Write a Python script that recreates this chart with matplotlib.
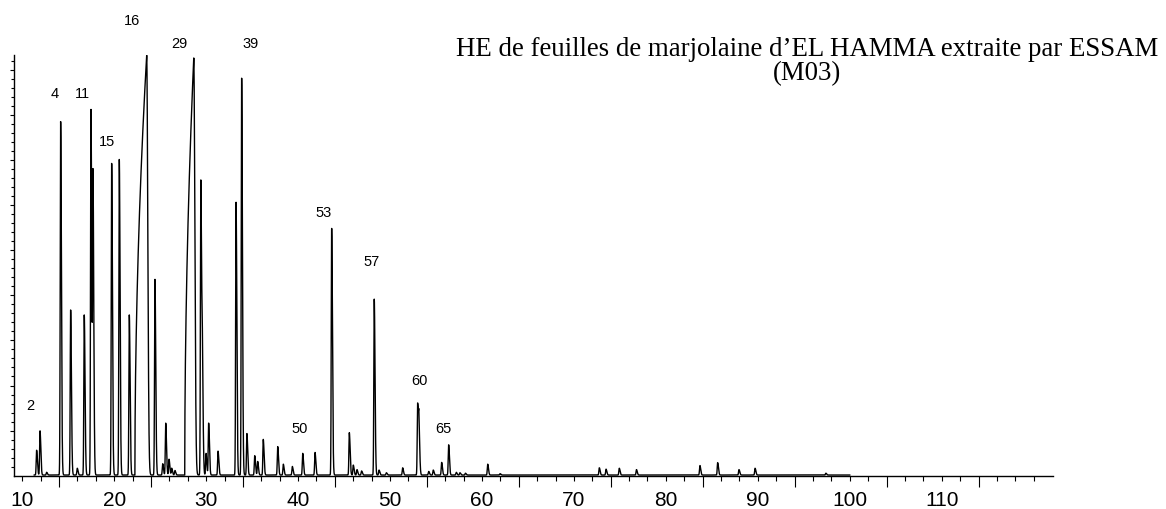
import numpy as np
import matplotlib
matplotlib.use("Agg")
import matplotlib.pyplot as plt
from matplotlib.ticker import FixedLocator, FuncFormatter, NullFormatter

# ---------------- data ----------------
# narrow peaks: retention time (min) and height (arbitrary units)
peak_rt = [11.56, 11.93, 12.65, 14.17, 15.26, 15.98, 16.74, 17.47, 17.69,
           19.72, 20.55, 21.64, 24.43, 25.27, 25.60, 25.96, 26.25, 26.60,
           29.42, 29.58, 29.98, 30.27, 31.29, 33.25, 33.86, 34.43, 35.28,
           35.60, 36.21, 37.78, 38.39, 39.37, 40.50, 41.84, 43.65, 45.57,
           46.00, 46.40, 46.90, 48.28, 48.80, 49.60, 51.37, 53.00, 53.14,
           54.20, 54.70, 55.61, 56.37, 57.20, 57.60, 58.20, 60.62, 61.96,
           72.76, 73.49, 74.93, 76.80, 83.70, 85.63, 87.95, 89.70, 97.40]
peak_height = [5.5, 9.8, 0.6, 78.4, 36.6, 1.5, 35.5, 81.1, 65.0,
               69.1, 70.0, 35.5, 43.4, 2.5, 11.5, 3.5, 1.5, 1.0,
               65.4, 23.3, 4.8, 11.5, 5.3, 60.5, 88.0, 9.2, 4.3,
               3.0, 7.9, 6.3, 2.4, 1.9, 4.8, 5.0, 54.7, 9.4,
               2.2, 1.2, 0.9, 39.0, 1.1, 0.5, 1.6, 15.9, 9.8,
               0.8, 1.1, 2.8, 6.7, 0.6, 0.5, 0.4, 2.4, 0.3,
               1.6, 1.3, 1.5, 1.2, 2.1, 2.75, 1.2, 1.5, 0.4]
# overloaded (fronting) peaks 16 and 29: start, apex, height
broad_start = [22.25, 27.67]
broad_apex = [23.53, 28.65]
broad_height = [93.1, 92.5]

# peak number labels
label_text = ["2", "4", "11", "15", "16", "29", "39", "50", "53", "57", "60", "65"]
label_x = [10.91, 13.56, 16.53, 19.25, 21.90, 27.04, 34.87, 40.13, 42.74, 48.00, 53.18, 55.79]
label_y = [15.7, 84.8, 84.8, 74.3, 101.1, 95.9, 95.9, 10.5, 58.4, 47.7, 21.2, 10.5]

xtick_values = [10, 20, 30, 40, 50, 60, 70, 80, 90, 100, 110]
xtick_labels = ["10", "20", "30", "40", "50", "60", "70", "80", "90", "100", "110"]

title_lines = ["HE de feuilles de marjolaine d\u2019EL HAMMA extraite par ESSAM", "(M03)"]

# ---------------- build trace ----------------
t = np.arange(11.3, 100.0, 0.004)
signal = np.full_like(t, 0.15)
for rt, h in zip(peak_rt, peak_height):
    s = np.where(t < rt, 0.045, 0.085)
    signal += h * np.exp(-0.5 * ((t - rt) / s) ** 2)
for st, ap, h in zip(broad_start, broad_apex, broad_height):
    frac = np.clip((t - st) / (ap - st), 0, 1)
    shape = np.where(t < ap, frac ** 0.5, np.exp(-0.5 * ((t - ap) / 0.12) ** 2))
    signal += h * shape

# ---------------- figure ----------------
W, H = 1166, 510
fig = plt.figure(figsize=(W / 100, H / 100), dpi=100)
ax = fig.add_axes([14 / W, 33.3 / H, (1052.7 - 14) / W, (476.7 - 56) / H])

ax.plot(t, signal, color="black", linewidth=1.0)

ax.set_xlim(9.1, 122.07)
ax.set_ylim(0, 93.3)

for side in ("top", "right"):
    ax.spines[side].set_visible(False)
for side in ("left", "bottom"):
    ax.spines[side].set_linewidth(1.0)

ax.yaxis.set_major_locator(FixedLocator(range(10, 91, 10)))
ax.yaxis.set_minor_locator(FixedLocator(range(2, 93, 2)))
ax.yaxis.set_major_formatter(NullFormatter())
ax.yaxis.set_minor_formatter(NullFormatter())
ax.tick_params(axis="y", which="major", length=3.2, width=0.8, direction="out")
ax.tick_params(axis="y", which="minor", length=2.0, width=0.8, direction="out")

label_map = dict(zip(xtick_values, xtick_labels))
ax.xaxis.set_major_locator(FixedLocator(range(14, 121, 10)))
ax.xaxis.set_minor_locator(FixedLocator(range(10, 121, 2)))
ax.xaxis.set_major_formatter(NullFormatter())
ax.xaxis.set_minor_formatter(FuncFormatter(lambda v, p: label_map.get(int(round(v)), "")))
ax.tick_params(axis="x", which="major", length=8, width=0.8, direction="out")
ax.tick_params(axis="x", which="minor", length=3.4, width=0.8, direction="out",
               pad=7, labelsize=15)
for lab in ax.get_xticklabels(minor=True):
    lab.set_fontfamily("Liberation Sans")

for txt, x, y in zip(label_text, label_x, label_y):
    ax.text(x, y, txt, ha="center", va="center", fontsize=10.5,
            family="Liberation Sans", clip_on=False)

fig.text(807 / W, (H - 56) / H, title_lines[0], ha="center", va="baseline",
         fontsize=19.4, family="Liberation Serif")
fig.text(807 / W, (H - 80) / H, title_lines[1], ha="center", va="baseline",
         fontsize=19.4, family="Liberation Serif")

fig.savefig("out.png", dpi=100)
